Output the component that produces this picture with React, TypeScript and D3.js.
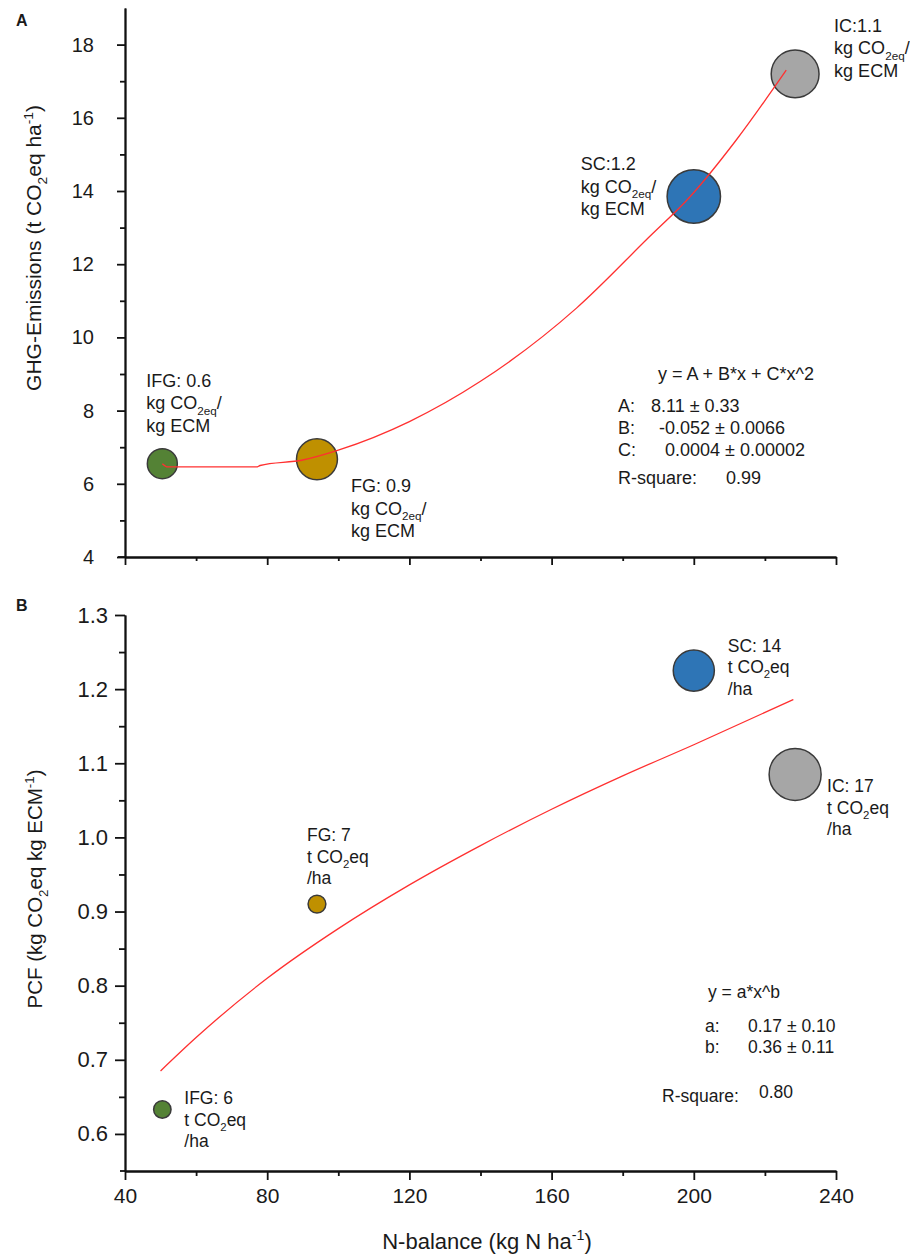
import React, { useRef, useEffect } from 'react';
import * as d3 from 'd3';

// farming systems, N-balance (kg N/ha), emissions (t CO2eq/ha), PCF (kg CO2eq/kg ECM)
const systems = ['IFG', 'FG', 'SC', 'IC'];
const colors = ['#548235', '#bf9000', '#2e75b6', '#a6a6a6'];
const nBalance = [50.5, 94, 200, 228.5];
const ghg = [6.55, 6.67, 13.85, 17.2];
const pcf = [0.633, 0.91, 1.225, 1.085];

const topLabels = ['IFG: 0.6', 'FG: 0.9', 'SC:1.2', 'IC:1.1'];
const bottomLabels = ['IFG: 6', 'FG: 7', 'SC: 14', 'IC: 17'];

// fitted curves
const fitTopX = [50.5, 52, 77, 78, 90, 100, 120, 140, 167, 187, 199, 212, 226];
const fitTopY = [6.55, 6.46, 6.46, 6.5, 6.65, 6.92, 7.7, 8.8, 10.8, 12.7, 13.85, 15.4, 17.3];
const fitBotX = [50, 60, 80, 100, 120, 140, 160, 180, 200, 228];
const fitBotY = [0.685, 0.73, 0.81, 0.877, 0.936, 0.989, 1.038, 1.083, 1.125, 1.186];

const xTicks = [40, 80, 120, 160, 200, 240];
const ghgTicks = [4, 6, 8, 10, 12, 14, 16, 18];
const pcfTicks = [0.6, 0.7, 0.8, 0.9, 1.0, 1.1, 1.2, 1.3];

const FONT = '"Liberation Sans", Arial, sans-serif';

function rich(sel, parts, size) {
  let shift = 0;
  parts.forEach(([t, k]) => {
    const target = k === 'sub' ? size * 0.3 : k === 'sup' ? -size * 0.4 : 0;
    sel.append('tspan')
      .attr('dy', target - shift)
      .attr('font-size', k === 'n' ? size : size * 0.65)
      .text(t);
    shift = target;
  });
}

function App() {
  const ref = useRef(null);

  useEffect(() => {
    const svg = d3.select(ref.current);
    svg.selectAll('*').remove();
    svg.attr('font-family', FONT).attr('fill', '#1a1a1a');

    const x = d3.scaleLinear().domain([40, 240]).range([125, 836]);
    const yTop = d3.scaleLinear().domain([4, 19]).range([557, 8]);
    const yBot = d3.scaleLinear().domain([0.55, 1.3]).range([1171, 615]);
    const rTop = d3.scaleLinear().domain([0.633, 1.225]).range([15, 26.7]);
    const rBot = d3.scaleLinear().domain([6.55, 17.2]).range([8.7, 26]);

    const axisStyle = (g) => {
      g.selectAll('path.domain').attr('stroke', '#111').attr('stroke-width', 1.8);
      g.selectAll('.tick line').attr('stroke', '#111').attr('stroke-width', 1.8);
      g.selectAll('.tick text').attr('fill', '#1a1a1a').attr('font-family', FONT);
    };

    // ---------- panel A ----------
    const a = svg.append('g');
    a.append('g').attr('transform', 'translate(0,557)')
      .call(d3.axisBottom(x).tickValues(xTicks).tickSize(8).tickSizeOuter(0).tickFormat(() => ''))
      .call(axisStyle);
    a.append('g').attr('transform', 'translate(0,557)')
      .call(d3.axisBottom(x).tickValues(d3.range(60, 241, 40)).tickSize(4).tickSizeOuter(0).tickFormat(() => ''))
      .call(axisStyle);
    a.append('line').attr('x1', 118).attr('x2', 125).attr('y1', 557).attr('y2', 557)
      .attr('stroke', '#111').attr('stroke-width', 1.8);

    a.append('g').attr('transform', 'translate(125,0)')
      .call(d3.axisLeft(yTop).tickValues(ghgTicks).tickSize(8).tickSizeOuter(0).tickPadding(23).tickFormat(d3.format('d')))
      .call(axisStyle)
      .call(g => g.selectAll('.tick text').attr('font-size', 20));
    a.append('g').attr('transform', 'translate(125,0)')
      .call(d3.axisLeft(yTop).tickValues(d3.range(5, 19, 2)).tickSize(5).tickSizeOuter(0).tickFormat(() => ''))
      .call(axisStyle);

    a.append('text').attr('x', 16).attr('y', 26).attr('font-size', 16).attr('font-weight', 'bold').text('A');
    const ya = a.append('text').attr('transform', 'translate(41,248) rotate(-90)')
      .attr('text-anchor', 'middle').attr('font-size', 21);
    rich(ya, [['GHG-Emissions (t CO', 'n'], ['2', 'sub'], ['eq ha', 'n'], ['-1', 'sup'], [')', 'n']], 21);

    const dotsA = a.append('g');
    const lineTop = d3.line().x(d => x(d[0])).y(d => yTop(d[1])).curve(d3.curveMonotoneX);
    a.append('path').attr('d', lineTop(d3.zip(fitTopX, fitTopY)))
      .attr('fill', 'none').attr('stroke', '#ff3030').attr('stroke-width', 1.3);

    const topOffsets = [[-16, -77], [34, 33], [-113, -26], [39, -42]];
    systems.forEach((s, i) => {
      const cx = x(nBalance[i]);
      const cy = yTop(ghg[i]);
      dotsA.append('circle').attr('cx', cx).attr('cy', cy).attr('r', rTop(pcf[i]))
        .attr('fill', colors[i]).attr('stroke', '#3a3a3a').attr('stroke-width', 1.5);
      const tx = cx + topOffsets[i][0];
      const ty = cy + topOffsets[i][1];
      a.append('text').attr('x', tx).attr('y', ty).attr('font-size', 18).text(topLabels[i]);
      const t2 = a.append('text').attr('x', tx).attr('y', ty + 22.5).attr('font-size', 18);
      rich(t2, [['kg CO', 'n'], ['2eq', 'sub'], ['/', 'n']], 18);
      a.append('text').attr('x', tx).attr('y', ty + 45).attr('font-size', 18).text('kg ECM');
    });

    const eqA = [
      ['y = A + B*x + C*x^2', 658, 380],
      ['A:', 618, 412], ['8.11 ± 0.33', 651, 412],
      ['B:', 618, 434], ['-0.052 ± 0.0066', 659, 434],
      ['C:', 618, 456], ['0.0004 ± 0.00002', 665, 456],
      ['R-square:', 618, 484], ['0.99', 726, 484],
    ];
    eqA.forEach(([t, tx, ty]) => a.append('text').attr('x', tx).attr('y', ty).attr('font-size', 18).text(t));

    // ---------- panel B ----------
    const b = svg.append('g');
    b.append('g').attr('transform', 'translate(0,1171)')
      .call(d3.axisBottom(x).tickValues(xTicks).tickSize(9).tickSizeOuter(0).tickPadding(8).tickFormat(d3.format('d')))
      .call(axisStyle)
      .call(g => g.selectAll('.tick text').attr('font-size', 21));
    b.append('g').attr('transform', 'translate(0,1171)')
      .call(d3.axisBottom(x).tickValues(d3.range(60, 241, 40)).tickSize(5).tickSizeOuter(0).tickFormat(() => ''))
      .call(axisStyle);
    b.append('line').attr('x1', 120).attr('x2', 125).attr('y1', 1171).attr('y2', 1171)
      .attr('stroke', '#111').attr('stroke-width', 1.8);

    b.append('g').attr('transform', 'translate(125,0)')
      .call(d3.axisLeft(yBot).tickValues(pcfTicks).tickSize(10).tickSizeOuter(0).tickPadding(7).tickFormat(d3.format('.1f')))
      .call(axisStyle)
      .call(g => g.selectAll('.tick text').attr('font-size', 22));
    b.append('g').attr('transform', 'translate(125,0)')
      .call(d3.axisLeft(yBot).tickValues([0.65, 0.75, 0.85, 0.95, 1.05, 1.15, 1.25]).tickSize(6).tickSizeOuter(0).tickFormat(() => ''))
      .call(axisStyle);

    b.append('text').attr('x', 16).attr('y', 611).attr('font-size', 16).attr('font-weight', 'bold').text('B');
    const yb = b.append('text').attr('transform', 'translate(42,889) rotate(-90)')
      .attr('text-anchor', 'middle').attr('font-size', 20.5);
    rich(yb, [['PCF (kg CO', 'n'], ['2', 'sub'], ['eq kg ECM', 'n'], ['-1', 'sup'], [')', 'n']], 20.5);
    const xl = b.append('text').attr('x', 487).attr('y', 1249).attr('text-anchor', 'middle').attr('font-size', 22);
    rich(xl, [['N-balance (kg N ha', 'n'], ['-1', 'sup'], [')', 'n']], 22);

    const lineBot = d3.line().x(d => x(d[0])).y(d => yBot(d[1])).curve(d3.curveMonotoneX);
    b.append('path').attr('d', lineBot(d3.zip(fitBotX, fitBotY)))
      .attr('fill', 'none').attr('stroke', '#ff3030').attr('stroke-width', 1.3);

    const botOffsets = [[22, -5], [-10, -63], [34, -19], [32, 18]];
    systems.forEach((s, i) => {
      const cx = x(nBalance[i]);
      const cy = yBot(pcf[i]);
      b.append('circle').attr('cx', cx).attr('cy', cy).attr('r', rBot(ghg[i]))
        .attr('fill', colors[i]).attr('stroke', '#3a3a3a').attr('stroke-width', 1.5);
      const tx = cx + botOffsets[i][0];
      const ty = cy + botOffsets[i][1];
      b.append('text').attr('x', tx).attr('y', ty).attr('font-size', 17.5).text(bottomLabels[i]);
      const t2 = b.append('text').attr('x', tx).attr('y', ty + 21.5).attr('font-size', 17.5);
      rich(t2, [['t CO', 'n'], ['2', 'sub'], ['eq', 'n']], 17.5);
      b.append('text').attr('x', tx).attr('y', ty + 43).attr('font-size', 17.5).text('/ha');
    });

    const eqB = [
      ['y = a*x^b', 708, 998],
      ['a:', 705, 1032], ['0.17 ± 0.10', 748, 1032],
      ['b:', 705, 1053], ['0.36 ± 0.11', 748, 1053],
      ['R-square:', 662, 1102], ['0.80', 759, 1098],
    ];
    eqB.forEach(([t, tx, ty]) => b.append('text').attr('x', tx).attr('y', ty).attr('font-size', 17.5).text(t));
  }, []);

  return (
    <svg ref={ref} width={910} height={1256}
      style={{ position: 'absolute', left: 0, top: 0, background: '#fff' }} />
  );
}

export default App;
